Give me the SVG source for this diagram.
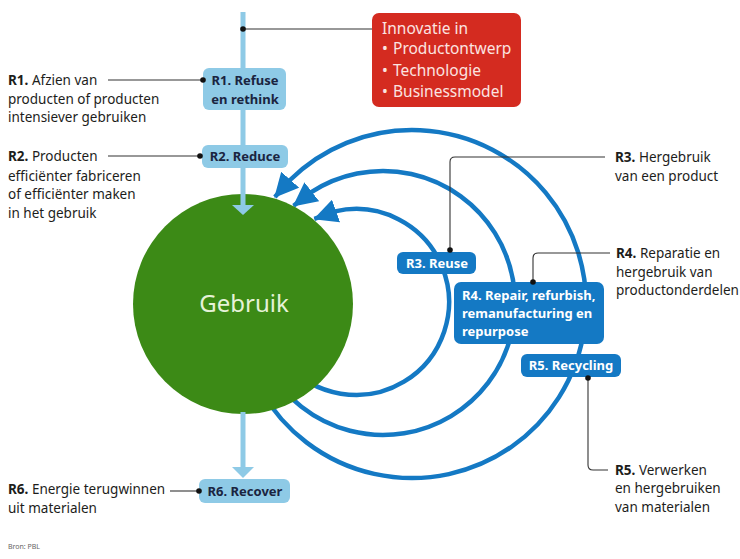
<svg xmlns="http://www.w3.org/2000/svg" width="740" height="559" viewBox="0 0 740 559">
<style>
.body{font-family:"Noto Sans","Liberation Sans",sans-serif;font-size:13.5px;fill:#1d1d1b}
.b{font-weight:bold}
.lbl{font-family:"Noto Sans","Liberation Sans",sans-serif;font-size:13px;font-weight:bold}
.lb{fill:#1a2440}
.db{fill:#ffffff}
.ring{fill:none;stroke:#1479c4;stroke-width:4.5}
.lead{fill:none;stroke:#333;stroke-width:1.1}
.flow{fill:none;stroke:#8ecae6;stroke-width:5}
.boxl{fill:#8ecae6}
.boxd{fill:#1479c4}
</style>
<defs>
<marker id="ah" markerUnits="userSpaceOnUse" markerWidth="24" markerHeight="24" viewBox="0 0 24 24" refX="23" refY="12" orient="auto">
<path d="M0,0 L24,12 L0,24 z" fill="#1479c4"/>
</marker>
</defs>
<rect width="740" height="559" fill="#ffffff"/>

<g id="connectors">
<path class="ring" d="M261.3 391 A174 174 0 1 0 289.5 180.5 L274.9 196.9" marker-end="url(#ah)"/>
<path class="ring" d="M268.7 369 A132 132 0 1 0 310.9 192.4 L293.6 205.8" marker-end="url(#ah)"/>
<path class="ring" d="M284.8 361.8 A93 93 0 1 0 335 211.4 L314.4 218.8" marker-end="url(#ah)"/>
</g>

<g id="gebruik">
<circle cx="243" cy="304" r="110" fill="#3c8a16"/>
<text x="244" y="312" text-anchor="middle" style="font-family:'Noto Sans','Liberation Sans',sans-serif;font-size:24px;fill:#e6f2d8">Gebruik</text>
</g>

<g id="flows">
<path class="flow" d="M243 12 V206"/>
<path d="M232 205 L254 205 L243 215 z" fill="#8ecae6"/>
<path class="flow" d="M243 412 V468"/>
<path d="M232 467 L254 467 L243 478 z" fill="#8ecae6"/>
<path class="lead" d="M243 29 H372"/>
<circle cx="243" cy="29" r="2.8" fill="#111"/>
<path class="lead" d="M108 80 H203"/>
<path class="lead" d="M108 156 H200"/>
<path class="lead" d="M170 491 H199"/>
<path class="lead" d="M605 157 H455 Q450 157 450 162 V250"/>
<path class="lead" d="M610 253 H538 Q533 253 533 258 V282"/>
<path class="lead" d="M588 378 V465 Q588 470 593 470 H608"/>
</g>

<g id="innovatie">
<rect x="372" y="13" width="149" height="94" rx="7" fill="#d42b20"/>
<g style="font-family:'Noto Sans','Liberation Sans',sans-serif;font-size:15.5px;fill:#fbe4e0">
<text x="382" y="34">Innovatie in</text>
<text x="382" y="54">•</text><text x="393" y="54">Productontwerp</text>
<text x="382" y="76">•</text><text x="393" y="76">Technologie</text>
<text x="382" y="97">•</text><text x="393" y="97">Businessmodel</text>
</g>
</g>

<g id="r1">
<rect class="boxl" x="203" y="68" width="83" height="42" rx="6"/>
<circle cx="203" cy="80" r="2.8" fill="#111"/>
<text class="lbl lb" x="245" y="85" text-anchor="middle">R1. Refuse</text>
<text class="lbl lb" x="245" y="104" text-anchor="middle">en rethink</text>
<text class="body" x="8" y="85"><tspan class="b">R1.</tspan> Afzien van</text>
<text class="body" x="8" y="104">producten of producten</text>
<text class="body" x="8" y="122">intensiever gebruiken</text>
</g>

<g id="r2">
<rect class="boxl" x="202" y="145" width="86" height="23" rx="6"/>
<circle cx="200" cy="156" r="2.8" fill="#111"/>
<text class="lbl lb" x="245" y="161" text-anchor="middle">R2. Reduce</text>
<text class="body" x="8" y="161"><tspan class="b">R2.</tspan> Producten</text>
<text class="body" x="8" y="181">efficiënter fabriceren</text>
<text class="body" x="8" y="199">of efficiënter maken</text>
<text class="body" x="8" y="218">in het gebruik</text>
</g>

<g id="r3">
<rect class="boxd" x="397" y="252" width="79" height="22" rx="6"/>
<circle cx="450" cy="250" r="2.8" fill="#111"/>
<text class="lbl db" x="437" y="268" text-anchor="middle">R3. Reuse</text>
<text class="body" x="615" y="162"><tspan class="b">R3.</tspan> Hergebruik</text>
<text class="body" x="615" y="181">van een product</text>
</g>

<g id="r4">
<rect class="boxd" x="454" y="282" width="150" height="62" rx="7"/>
<circle cx="533" cy="282" r="2.8" fill="#111"/>
<text class="lbl db" x="462" y="300">R4. Repair, refurbish,</text>
<text class="lbl db" x="462" y="318">remanufacturing en</text>
<text class="lbl db" x="462" y="336">repurpose</text>
<text class="body" x="616" y="258"><tspan class="b">R4.</tspan> Reparatie en</text>
<text class="body" x="616" y="277">hergebruik van</text>
<text class="body" x="616" y="295">productonderdelen</text>
</g>

<g id="r5">
<rect class="boxd" x="521" y="354" width="100" height="23" rx="6"/>
<circle cx="588" cy="378" r="2.8" fill="#111"/>
<text class="lbl db" x="571" y="370" text-anchor="middle">R5. Recycling</text>
<text class="body" x="615" y="475"><tspan class="b">R5.</tspan> Verwerken</text>
<text class="body" x="615" y="493">en hergebruiken</text>
<text class="body" x="615" y="512">van materialen</text>
</g>

<g id="r6">
<rect class="boxl" x="199" y="479" width="91" height="24" rx="6"/>
<circle cx="199" cy="491" r="2.8" fill="#111"/>
<text class="lbl lb" x="245" y="496" text-anchor="middle">R6. Recover</text>
<text class="body" x="8" y="494"><tspan class="b">R6.</tspan> Energie terugwinnen</text>
<text class="body" x="8" y="513">uit materialen</text>
</g>

<text x="8" y="549" style="font-family:'Noto Sans','Liberation Sans',sans-serif;font-size:7px;fill:#666">Bron: PBL</text>
</svg>
